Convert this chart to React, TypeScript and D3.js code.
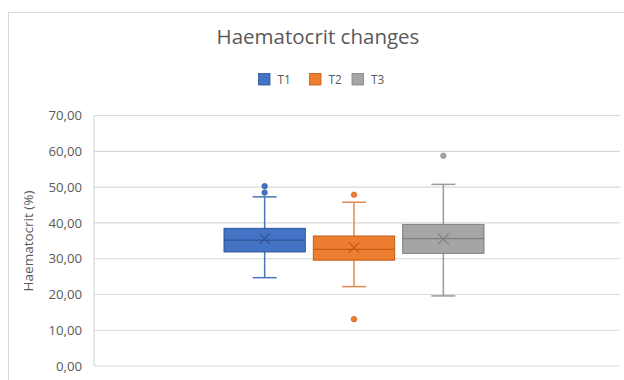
import React from "react";
import * as d3 from "d3";

// Haematocrit (%) summary statistics per time point
const series = ["T1", "T2", "T3"];
const q1 = [31.9, 29.6, 31.5];
const median = [35.2, 32.6, 35.6];
const q3 = [38.5, 36.35, 39.6];
const mean = [35.6, 33.1, 35.5];
const whiskerLow = [24.7, 22.2, 19.6];
const whiskerHigh = [47.3, 45.8, 50.8];
const outliers = [[50.3, 48.5], [47.9, 13.1], [58.8]];
const yTicks = [0, 10, 20, 30, 40, 50, 60, 70];

const fills = ["#4472C4", "#ED7D31", "#A5A5A5"];
const strokes = ["#2F5597", "#C55A11", "#7F7F7F"];
const whiskerColors = ["#4A74BE", "#E28A4F", "#9A9A9A"];

const W = 624;
const H = 380;
const plot = { left: 94, right: 620, top: 115.7, bottom: 366 };
const font = "'Open Sans', Lato, sans-serif";
const textColor = "#595959";

export default function App() {
  const y = d3.scaleLinear().domain([0, 70]).range([plot.bottom, plot.top]);
  const groupWidth = 260;
  const center = 354;
  const x = d3
    .scaleBand<string>()
    .domain(series)
    .range([center - groupWidth / 2, center + groupWidth / 2])
    .paddingInner(0.09)
    .paddingOuter(0);
  const bw = x.bandwidth();
  const cap = 24;
  const fmt = (v: number) => d3.format(".2f")(v).replace(".", ",");

  return (
    <svg
      width={W}
      height={H}
      style={{ position: "absolute", left: 0, top: 0, background: "#fff" }}
    >
      <rect x={8.5} y={12.5} width={800} height={600} fill="#fff" stroke="#D9D9D9" />
      <text
        x={318}
        y={43.5}
        textAnchor="middle"
        fontFamily={font}
        fontSize={20.5}
        fill={textColor}
      >
        Haematocrit changes
      </text>

      {/* legend */}
      {series.map((s, i) => {
        const lx = [258.5, 309.5, 352][i];
        return (
          <g key={s}>
            <rect x={lx} y={73.5} width={11.5} height={11.5} fill={fills[i]} stroke={strokes[i]} strokeWidth={0.8} />
            <text x={lx + 19} y={83.5} fontFamily={font} fontSize={11.8} fill={textColor}>
              {s}
            </text>
          </g>
        );
      })}

      {/* gridlines and y-axis */}
      {yTicks.map((t) => (
        <g key={t}>
          <line x1={plot.left} x2={plot.right} y1={y(t)} y2={y(t)} stroke="#D9D9D9" strokeWidth={1.2} />
          <text
            x={82}
            y={y(t) + 4.6}
            textAnchor="end"
            fontFamily={font}
            fontSize={13.2}
            fill={textColor}
          >
            {fmt(t)}
          </text>
        </g>
      ))}
      <line x1={plot.left} x2={plot.left} y1={plot.top} y2={plot.bottom} stroke="#D9D9D9" strokeWidth={1.2} />
      <text
        transform={`translate(33,241) rotate(-90)`}
        textAnchor="middle"
        fontFamily={font}
        fontSize={13.5}
        fill={textColor}
      >
        Haematocrit (%)
      </text>

      {/* box plots */}
      {series.map((s, i) => {
        const x0 = x(s)!;
        const cx = x0 + bw / 2;
        const m = 5.3;
        return (
          <g key={s}>
            <line x1={cx} x2={cx} y1={y(whiskerHigh[i])} y2={y(q3[i])} stroke={whiskerColors[i]} strokeWidth={1.5} />
            <line x1={cx} x2={cx} y1={y(q1[i])} y2={y(whiskerLow[i])} stroke={whiskerColors[i]} strokeWidth={1.5} />
            <line x1={cx - cap / 2} x2={cx + cap / 2} y1={y(whiskerHigh[i])} y2={y(whiskerHigh[i])} stroke={whiskerColors[i]} strokeWidth={1.5} />
            <line x1={cx - cap / 2} x2={cx + cap / 2} y1={y(whiskerLow[i])} y2={y(whiskerLow[i])} stroke={whiskerColors[i]} strokeWidth={1.5} />
            <rect
              x={x0}
              y={y(q3[i])}
              width={bw}
              height={y(q1[i]) - y(q3[i])}
              fill={fills[i]}
              stroke={strokes[i]}
              strokeWidth={1}
            />
            <line x1={x0} x2={x0 + bw} y1={y(median[i])} y2={y(median[i])} stroke={strokes[i]} strokeWidth={1.2} />
            <path
              d={`M${cx - m},${y(mean[i]) - m}L${cx + m},${y(mean[i]) + m}M${cx - m},${y(mean[i]) + m}L${cx + m},${y(mean[i]) - m}`}
              stroke={strokes[i]}
              strokeWidth={1.1}
              fill="none"
            />
            {outliers[i].map((v, j) => (
              <circle key={j} cx={cx} cy={y(v)} r={2.8} fill={fills[i]} stroke={strokes[i]} strokeWidth={0.5} />
            ))}
          </g>
        );
      })}
    </svg>
  );
}
